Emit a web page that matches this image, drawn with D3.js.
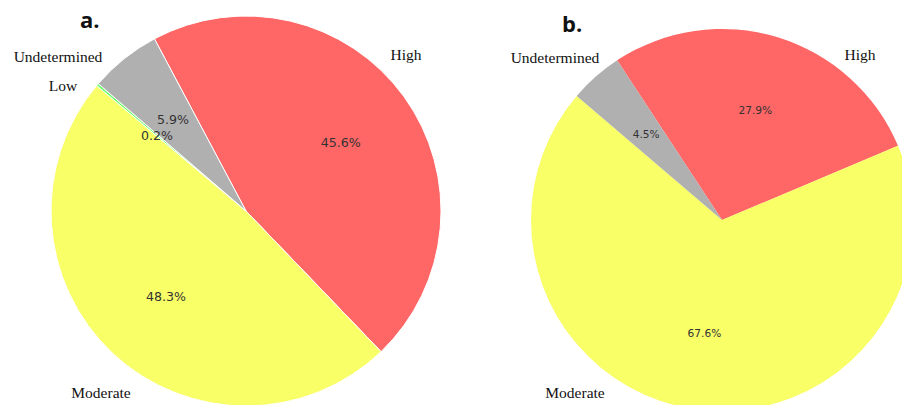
<!DOCTYPE html>
<html>
<head>
<meta charset="utf-8">
<script src="https://cdn.jsdelivr.net/npm/d3@7"></script>
<style>
  body { margin: 0; background: #fff; }
  svg { display: block; }
</style>
</head>
<body>
<script>
// data
var categoriesA = ["High", "Moderate", "Low", "Undetermined"];
var valuesA = [45.6, 48.3, 0.2, 5.9];
var categoriesB = ["High", "Moderate", "Undetermined"];
var valuesB = [27.9, 67.6, 4.5];
var panelTitles = ["a.", "b."];

var width = 902, height = 405;

var color = d3.scaleOrdinal()
  .domain(["High", "Moderate", "Low", "Undetermined"])
  .range(["#ff6666", "#f9ff66", "#66ff66", "#b0b0b0"]);

// layout of the two pies; outer labels are offsets from the pie centre
var panels = [
  { cats: categoriesA, vals: valuesA, title: panelTitles[0],
    cx: 246, cy: 211, r: 195, start: -28, edge: "#fff", pctSize: 12.6,
    titlePos: [-166, -183],
    labelPos: { "Undetermined": [-188, -149], "Low": [-183, -120], "High": [160, -151], "Moderate": [-145, 187] } },
  { cats: categoriesB, vals: valuesB, title: panelTitles[1],
    cx: 722, cy: 220, r: 191, start: -33.3, edge: "none", pctSize: 10.6,
    titlePos: [-160, -188],
    labelPos: { "Undetermined": [-167, -157], "High": [138, -160], "Moderate": [-147, 178] } }
];

var svg = d3.select("body").append("svg")
  .attr("width", width)
  .attr("height", height);

panels.forEach(function(p) {
  var rows = p.cats.map(function(c, i) { return { cat: c, val: p.vals[i] }; });
  var a0 = p.start * Math.PI / 180;
  var pie = d3.pie().sort(null).value(function(d) { return d.val; })
    .startAngle(a0).endAngle(a0 + 2 * Math.PI);
  var arcs = pie(rows);
  var arc = d3.arc().innerRadius(0).outerRadius(p.r);
  var pctArc = d3.arc().innerRadius(p.r * 0.6).outerRadius(p.r * 0.6);

  var g = svg.append("g").attr("transform", "translate(" + p.cx + "," + p.cy + ")");

  g.selectAll("path.slice").data(arcs).enter().append("path")
    .attr("class", "slice")
    .attr("d", arc)
    .attr("fill", function(d) { return color(d.data.cat); })
    .attr("stroke", p.edge)
    .attr("stroke-width", p.edge == "none" ? 0 : 1);

  g.selectAll("text.pct").data(arcs).enter().append("text")
    .attr("class", "pct")
    .attr("transform", function(d) { return "translate(" + pctArc.centroid(d) + ")"; })
    .attr("text-anchor", "middle")
    .attr("dominant-baseline", "central")
    .style("font-family", "DejaVu Sans, sans-serif")
    .style("font-size", p.pctSize + "px")
    .style("fill", "#333")
    .text(function(d) { return d.data.val.toFixed(1) + "%"; });

  g.selectAll("text.lbl").data(arcs).enter().append("text")
    .attr("class", "lbl")
    .attr("x", function(d) { return p.labelPos[d.data.cat][0]; })
    .attr("y", function(d) { return p.labelPos[d.data.cat][1]; })
    .attr("text-anchor", "middle")
    .style("font-family", "Liberation Serif, serif")
    .style("font-size", "15.5px")
    .style("fill", "#111")
    .text(function(d) { return d.data.cat; });

  g.append("text")
    .attr("x", p.titlePos[0])
    .attr("y", p.titlePos[1])
    .style("font-family", "Open Sans, sans-serif")
    .style("font-weight", "bold")
    .style("font-size", "22px")
    .style("fill", "#111")
    .text(p.title);
});
</script>
</body>
</html>
